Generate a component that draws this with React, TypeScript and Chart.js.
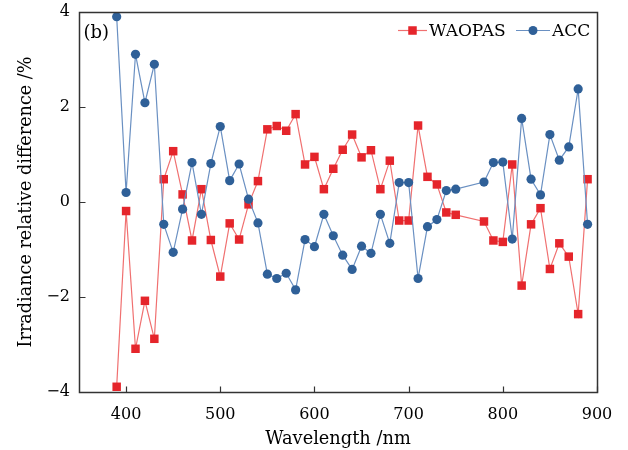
import React, { useEffect, useRef } from "react";
import { Chart, registerables } from "chart.js";

Chart.register(...registerables);

const wavelengths = [
  390, 400, 410, 420, 430, 440, 450, 460, 470, 480, 490, 500, 510, 520, 530, 540, 550, 560,
  570, 580, 590, 600, 610, 620, 630, 640, 650, 660, 670, 680, 690, 700, 710, 720, 730, 740,
  750, 780, 790, 800, 810, 820, 830, 840, 850, 860, 870, 880, 890,
];

const waopas = [
  -3.89, -0.19, -3.09, -2.08, -2.88, 0.48, 1.07, 0.16, -0.81, 0.27, -0.8, -1.57, -0.45, -0.79, -0.05, 0.44, 1.53, 1.6,
  1.5, 1.85, 0.79, 0.95, 0.27, 0.7, 1.1, 1.42, 0.94, 1.09, 0.27, 0.87, -0.39, -0.39, 1.61, 0.53, 0.37, -0.22,
  -0.27, -0.41, -0.81, -0.84, 0.79, -1.76, -0.47, -0.13, -1.41, -0.87, -1.15, -2.36, 0.48,
];

const acc = [
  3.9, 0.2, 3.11, 2.09, 2.9, -0.47, -1.06, -0.15, 0.83, -0.26, 0.81, 1.59, 0.45, 0.8, 0.06, -0.44, -1.52, -1.61,
  -1.5, -1.85, -0.79, -0.94, -0.26, -0.71, -1.12, -1.42, -0.93, -1.08, -0.26, -0.87, 0.41, 0.41, -1.61, -0.52, -0.37, 0.24,
  0.27, 0.42, 0.83, 0.84, -0.78, 1.76, 0.48, 0.15, 1.42, 0.88, 1.16, 2.38, -0.47,
];

const xRange = [350, 900];
const yRange = [-4, 4];
const xTicks = [400, 500, 600, 700, 800, 900];
const yTicks = [-4, -2, 0, 2, 4];
const seriesNames = ["WAOPAS", "ACC"];
const panelLabel = "(b)";
const xTitle = "Wavelength /nm";
const yTitle = "Irradiance relative difference /%";

const FONT = "'DejaVu Serif', 'Liberation Serif', serif";
const RED = "#e5252b";
const RED_LINE = "#f07070";
const BLUE = "#2f6098";
const BLUE_LINE = "#6a90c2";
const AXIS = "#333333";
const TEXT = "#000";

const framePlugin = {
  id: "framePlugin",
  afterDraw(chart: any) {
    const { ctx, scales } = chart;
    const left = Math.round(scales.x.getPixelForValue(xRange[0])) + 0.5;
    const right = Math.round(scales.x.getPixelForValue(xRange[1])) + 0.5;
    const top = Math.round(scales.y.getPixelForValue(yRange[1])) + 0.5;
    const bottom = Math.round(scales.y.getPixelForValue(yRange[0])) + 0.5;
    ctx.save();
    ctx.strokeStyle = AXIS;
    ctx.lineWidth = 1.5;
    ctx.strokeRect(left, top, right - left, bottom - top);
    ctx.lineWidth = 1.2;
    ctx.beginPath();
    xTicks.forEach((v) => {
      const x = Math.round(scales.x.getPixelForValue(v)) + 0.5;
      ctx.moveTo(x, bottom);
      ctx.lineTo(x, bottom - 6);
    });
    yTicks.forEach((v) => {
      const y = Math.round(scales.y.getPixelForValue(v)) + 0.5;
      ctx.moveTo(left, y);
      ctx.lineTo(left + 6, y);
    });
    ctx.stroke();

    // panel label
    ctx.fillStyle = TEXT;
    ctx.font = `18px ${FONT}`;
    ctx.textBaseline = "middle";
    ctx.textAlign = "left";
    ctx.fillText(panelLabel, left + 4, top + 21);

    // legend
    const ly = top + 18;
    const items = [
      { name: seriesNames[0], line: RED_LINE, fill: RED, style: "rect", x0: 398, x1: 427 },
      { name: seriesNames[1], line: BLUE_LINE, fill: BLUE, style: "circle", x0: 516, x1: 550 },
    ];
    ctx.font = `17px ${FONT}`;
    items.forEach((it) => {
      ctx.strokeStyle = it.line;
      ctx.lineWidth = 1.2;
      ctx.beginPath();
      ctx.moveTo(it.x0, ly);
      ctx.lineTo(it.x1, ly);
      ctx.stroke();
      const cx = (it.x0 + it.x1) / 2;
      ctx.fillStyle = it.fill;
      if (it.style === "rect") {
        ctx.fillRect(cx - 4.25, ly - 4.25, 8.5, 8.5);
      } else {
        ctx.beginPath();
        ctx.arc(cx, ly, 4.5, 0, Math.PI * 2);
        ctx.fill();
      }
      ctx.fillStyle = TEXT;
      ctx.fillText(it.name, it.x1 + 2, ly + 1);
    });
    ctx.restore();
  },
};

export default function App() {
  const ref = useRef<HTMLCanvasElement | null>(null);

  useEffect(() => {
    document.body.style.margin = "0";
    const canvas = ref.current;
    if (!canvas) return;
    const chart = new Chart(canvas, {
      type: "line",
      data: {
        datasets: [
          {
            label: seriesNames[1],
            data: wavelengths.map((w, i) => ({ x: w, y: acc[i] })),
            borderColor: BLUE_LINE,
            backgroundColor: BLUE,
            borderWidth: 1.2,
            pointStyle: "circle",
            pointRadius: 4.6,
            pointBorderWidth: 0,
            pointBackgroundColor: BLUE,
            tension: 0,
          },
          {
            label: seriesNames[0],
            data: wavelengths.map((w, i) => ({ x: w, y: waopas[i] })),
            borderColor: RED_LINE,
            backgroundColor: RED,
            borderWidth: 1.2,
            pointStyle: "rect",
            pointRadius: 6,
            pointBorderWidth: 0,
            pointBackgroundColor: RED,
            tension: 0,
          },
        ],
      },
      options: {
        animation: false,
        responsive: false,
        devicePixelRatio: 1,
        layout: { padding: { left: 0, top: 12, right: 31, bottom: 0 } },
        plugins: { legend: { display: false }, tooltip: { enabled: false } },
        scales: {
          x: {
            type: "linear",
            min: xRange[0],
            max: xRange[1],
            grid: { display: false, drawTicks: false },
            border: { display: false },
            afterBuildTicks: (s: any) => {
              s.ticks = xTicks.map((v) => ({ value: v }));
            },
            afterFit: (s: any) => {
              s.height = 58;
              s.paddingLeft = 0;
              s.paddingRight = 0;
            },
            ticks: {
              color: TEXT,
              font: { family: FONT, size: 16 },
              padding: 13,
              maxRotation: 0,
              autoSkip: false,
            },
            title: {
              display: true,
              text: xTitle,
              color: TEXT,
              font: { family: FONT, size: 17.8 },
              padding: { top: 2, bottom: 0 },
            },
          },
          y: {
            type: "linear",
            min: yRange[0],
            max: yRange[1],
            grid: { display: false, drawTicks: false },
            border: { display: false },
            afterBuildTicks: (s: any) => {
              s.ticks = yTicks.map((v) => ({ value: v }));
            },
            afterFit: (s: any) => {
              s.width = 79;
              s.paddingTop = 0;
              s.paddingBottom = 0;
            },
            ticks: {
              color: TEXT,
              font: { family: FONT, size: 16 },
              padding: 9,
              callback: (v: any) => (Number(v) < 0 ? "\u2212" + Math.abs(Number(v)) : String(v)),
            },
            title: {
              display: true,
              text: yTitle,
              color: TEXT,
              font: { family: FONT, size: 17.6 },
              padding: { top: 16, bottom: 4 },
            },
          },
        },
      },
      plugins: [framePlugin],
    });
    return () => chart.destroy();
  }, []);

  return (
    <div style={{ width: 628, height: 450, background: "#fff" }}>
      <canvas ref={ref} width={628} height={450} style={{ display: "block" }} />
    </div>
  );
}
